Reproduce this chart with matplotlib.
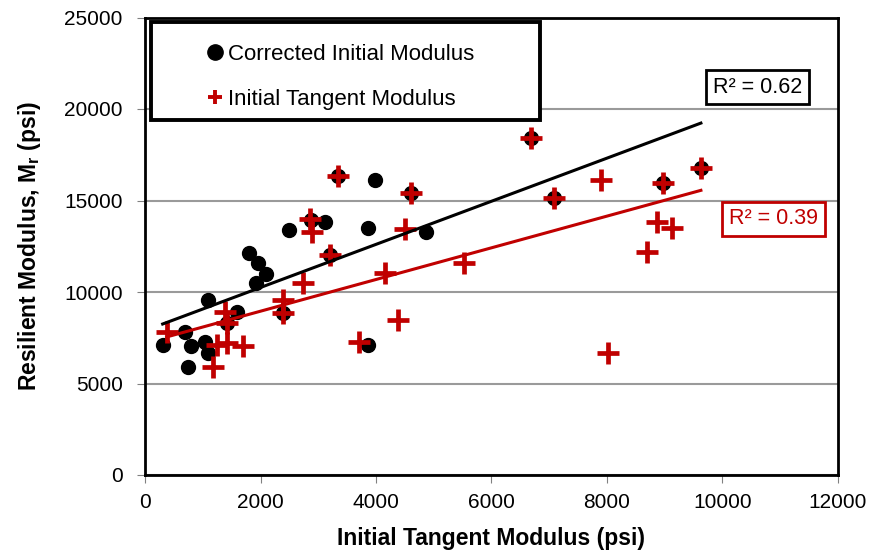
import numpy as np
import matplotlib
matplotlib.use("Agg")
import matplotlib.pyplot as plt
from matplotlib.lines import Line2D
from matplotlib.patches import Rectangle

plt.rcParams['font.family'] = ['Liberation Sans', 'DejaVu Sans']

# Corrected initial modulus vs resilient modulus (psi)
corr_x = [306, 692, 790, 750, 1095, 1037, 1095, 1585, 1424, 1804, 1960, 2092, 1920, 2496,
          2882, 3113, 3343, 3977, 3862, 4611, 4871, 3210, 2392, 3862, 6687, 7090, 8963, 9626]
corr_y = [7100, 7830, 7050, 5920, 9560, 7290, 6650, 8920, 8290, 12150, 11570, 10980, 10510, 13390,
          13930, 13800, 16340, 16120, 13480, 15390, 13300, 12020, 8830, 7100, 18400, 15120, 15940, 16800]

# Initial tangent modulus vs resilient modulus (psi)
tan_x = [375, 1383, 1424, 1412, 1239, 1700, 1182, 2392, 2392, 2738, 2865, 2899, 3210, 3343, 4150,
         4381, 3706, 4611, 4508, 5516, 6687, 7090, 7897, 8963, 9626, 8858, 9125, 8686, 8023]
tan_y = [7830, 8920, 8290, 7200, 7100, 7050, 5920, 9560, 8830, 10470, 13970, 13300, 12020, 16340, 11020,
         8470, 7290, 15390, 13430, 11570, 18400, 15120, 16120, 15970, 16790, 13840, 13510, 12170, 6650]

# Linear trendlines (slope, intercept) and their R²
corr_fit = (1.178, 7891)
tan_fit = (0.866, 7219)
corr_r2 = "0.62"
tan_r2 = "0.39"

red = "#C00000"

fig = plt.figure(figsize=(8.73, 5.52), dpi=100)
ax = fig.add_axes([145 / 873, 1 - 475 / 552, 693 / 873, 457.5 / 552])

ax.scatter(corr_x, corr_y, s=100, color="black", zorder=3)
ax.scatter(tan_x, tan_y, s=250, marker="+", color=red, linewidths=3.4, zorder=4)

xs = np.array([min(corr_x), max(corr_x)])
ax.plot(xs, corr_fit[0] * xs + corr_fit[1], color="black", lw=2.2, zorder=5)
xs = np.array([min(tan_x), max(tan_x)])
ax.plot(xs, tan_fit[0] * xs + tan_fit[1], color=red, lw=2.2, zorder=5)

ax.set_xlim(0, 12000)
ax.set_ylim(0, 25000)
ax.set_xticks(np.arange(0, 12001, 2000))
ax.set_yticks(np.arange(0, 25001, 5000))
ax.yaxis.grid(True, color="#9a9a9a", lw=1.5)
ax.set_axisbelow(True)
ax.tick_params(direction="out", length=6, color="#808080", labelsize=15)
ax.tick_params(axis="y", pad=10)
ax.tick_params(axis="x", pad=7)
for sp in ax.spines.values():
    sp.set_linewidth(2)
    sp.set_color("black")

ax.set_xlabel("Initial Tangent Modulus (psi)", fontsize=16.5, fontweight="bold", labelpad=11)
ax.set_ylabel(r"Resilient Modulus, M$_\mathregular{r}$ (psi)", fontsize=16.5,
              fontweight="bold", labelpad=15)

# Legend with a heavy frame
ax.add_patch(Rectangle((0.008, 0.775), 0.562, 0.215, transform=ax.transAxes,
                       fill=True, fc="white", ec="black", lw=2.8, zorder=6))
handles = [Line2D([], [], ls="", marker="o", color="black", ms=11),
           Line2D([], [], ls="", marker="+", color=red, ms=10, mew=2.8)]
leg = ax.legend(handles, ["Corrected Initial Modulus", "Initial Tangent Modulus"],
                loc="upper left", bbox_to_anchor=(0.085, 0.943), frameon=False,
                fontsize=16, handlelength=1.0, handletextpad=0.1, labelspacing=1.1,
                borderpad=0, borderaxespad=0)
leg.set_zorder(7)

ax.text(10600, 21200, "R² = " + corr_r2, fontsize=15.5, ha="center", va="center", zorder=8,
        bbox=dict(boxstyle="square,pad=0.32", fc="white", ec="black", lw=2))
ax.text(10877, 13990, "R² = " + tan_r2, fontsize=15.5, color=red, ha="center", va="center", zorder=8,
        bbox=dict(boxstyle="square,pad=0.32", fc="white", ec=red, lw=2))

fig.savefig("out.png", dpi=100)
